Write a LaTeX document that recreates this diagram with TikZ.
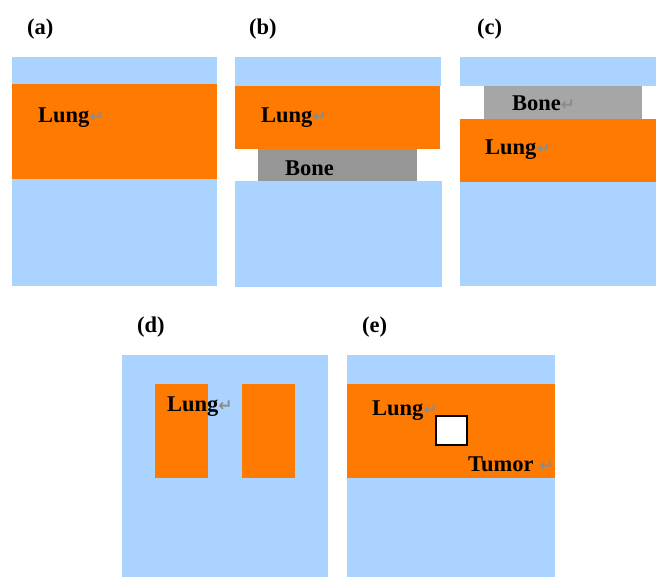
\documentclass[tikz,border=0pt]{standalone}
\usepackage{fontspec}
\setmainfont{Liberation Serif}
\newfontfamily\symfont{DejaVu Sans}
\definecolor{skyb}{RGB}{170,212,255}
\definecolor{lungo}{RGB}{255,122,0}
\definecolor{boneA}{RGB}{150,150,150}
\definecolor{boneB}{RGB}{166,166,166}
\definecolor{markg}{RGB}{140,140,140}
\tikzset{
  tissue/.style={fill=skyb},
  lungr/.style={fill=lungo},
  lbl/.style={anchor=base west, inner sep=0pt, font=\fontsize{22.5}{22}\selectfont\bfseries},
}
\newcommand{\pmark}{{\symfont\fontsize{17}{17}\selectfont\textcolor{markg}{↵}}}
\begin{document}
\begin{tikzpicture}[x=1pt,y=-1pt]
\useasboundingbox (0,0) rectangle (656,577);
% (a)
\fill[tissue] (12,57) rectangle (217,286);
\fill[lungr] (12,84) rectangle (217,179);
\node[lbl] (la) at (27,35) {(a)};
\node[lbl] (lunga) at (38,123) {Lung\pmark};
% (b)
\fill[tissue] (235,57) rectangle (441,86);
\fill[lungr] (235,86) rectangle (440,149);
\fill[boneA] (258,149) rectangle (417,181);
\fill[tissue] (235,181) rectangle (442,287);
\node[lbl] (lb) at (249,35) {(b)};
\node[lbl] (lungb) at (261,123) {Lung\pmark};
\node[lbl] (boneb) at (285,176) {Bone};
% (c)
\fill[tissue] (460,57) rectangle (656,86);
\fill[boneB] (484,86) rectangle (642,119);
\fill[lungr] (460,119) rectangle (656,182);
\fill[tissue] (460,182) rectangle (656,286);
\node[lbl] (lc) at (477,35) {(c)};
\node[lbl] (bonec) at (512,111) {Bone\pmark};
\node[lbl] (lungc) at (485,155) {Lung\pmark};
% (d)
\fill[tissue] (122,355) rectangle (328,577);
\fill[lungr] (155,384) rectangle (208,478);
\fill[lungr] (242,384) rectangle (295,478);
\node[lbl] (ld) at (137,333) {(d)};
\node[lbl] (lungd) at (167,411) {Lung\pmark};
% (e)
\fill[tissue] (347,355) rectangle (555,577);
\fill[lungr] (347,384) rectangle (555,478);
\draw[fill=white, line width=1.2pt] (436,416) rectangle (467,445);
\node[lbl] (le) at (362,333) {(e)};
\node[lbl] (lunge) at (372,415) {Lung\pmark};
\node[lbl] (tumor) at (468,471) {Tumor \pmark};
\end{tikzpicture}
\end{document}
